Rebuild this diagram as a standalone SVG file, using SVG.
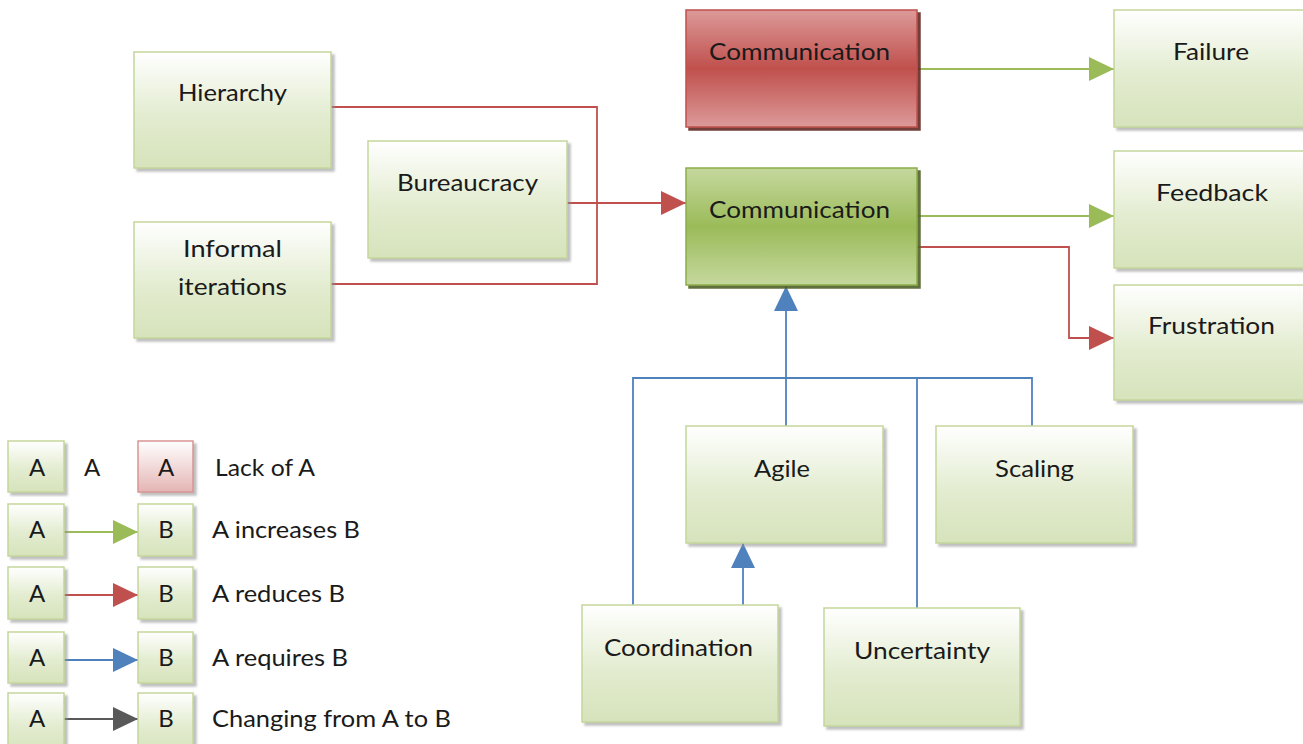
<svg xmlns="http://www.w3.org/2000/svg" width="1303" height="744" viewBox="0 0 1303 744">
  <defs>
    <linearGradient id="gLight" x1="0" y1="0" x2="0" y2="1">
      <stop offset="0" stop-color="#ffffff"/>
      <stop offset="0.55" stop-color="#e3ecd0"/>
      <stop offset="1" stop-color="#d6e3bb"/>
    </linearGradient>
    <linearGradient id="gRed" x1="0" y1="0" x2="0" y2="1">
      <stop offset="0" stop-color="#dc9a99"/>
      <stop offset="0.5" stop-color="#c0504d"/>
      <stop offset="1" stop-color="#dc9a99"/>
    </linearGradient>
    <linearGradient id="gGreen" x1="0" y1="0" x2="0" y2="1">
      <stop offset="0" stop-color="#c5d89e"/>
      <stop offset="0.5" stop-color="#9bbb59"/>
      <stop offset="1" stop-color="#c5d89e"/>
    </linearGradient>
    <linearGradient id="gPink" x1="0" y1="0" x2="0" y2="1">
      <stop offset="0" stop-color="#ffffff"/>
      <stop offset="1" stop-color="#e4b5b4"/>
    </linearGradient>
    <filter id="shLight" x="-10%" y="-10%" width="130%" height="130%">
      <feDropShadow dx="3" dy="3" stdDeviation="0.8" flood-color="#8c8c8c" flood-opacity="0.55"/>
    </filter>
    <filter id="shRed" x="-10%" y="-10%" width="130%" height="130%">
      <feDropShadow dx="3" dy="3" stdDeviation="0.6" flood-color="#632523" flood-opacity="0.9"/>
    </filter>
    <filter id="shGreen" x="-10%" y="-10%" width="130%" height="130%">
      <feDropShadow dx="3" dy="3" stdDeviation="0.6" flood-color="#4f6228" flood-opacity="0.9"/>
    </filter>
    <marker id="mGreen" viewBox="0 0 25 24" refX="25" refY="12" markerWidth="25" markerHeight="24" markerUnits="userSpaceOnUse" orient="auto">
      <path d="M0,0 L25,12 L0,24 Z" fill="#9bbb59"/>
    </marker>
    <marker id="mRed" viewBox="0 0 25 24" refX="25" refY="12" markerWidth="25" markerHeight="24" markerUnits="userSpaceOnUse" orient="auto">
      <path d="M0,0 L25,12 L0,24 Z" fill="#c0504d"/>
    </marker>
    <marker id="mBlue" viewBox="0 0 25 24" refX="25" refY="12" markerWidth="25" markerHeight="24" markerUnits="userSpaceOnUse" orient="auto">
      <path d="M0,0 L25,12 L0,24 Z" fill="#4f81bd"/>
    </marker>
    <marker id="mGray" viewBox="0 0 25 24" refX="25" refY="12" markerWidth="25" markerHeight="24" markerUnits="userSpaceOnUse" orient="auto">
      <path d="M0,0 L25,12 L0,24 Z" fill="#595959"/>
    </marker>
  </defs>
  <style>
    .light { fill: url(#gLight); stroke: #c3d69b; stroke-width: 1.5; filter: url(#shLight); }
    .lack { fill: url(#gRed); stroke: #c0504d; stroke-width: 1.5; filter: url(#shRed); }
    .core { fill: url(#gGreen); stroke: #8cad48; stroke-width: 1.5; filter: url(#shGreen); }
    .pink { fill: url(#gPink); stroke: #d99594; stroke-width: 1.5; filter: url(#shLight); }
    text { font-family: "Lato", "Open Sans", "Liberation Sans", sans-serif; font-size: 24px; fill: #1a1a1a; }
    .c { text-anchor: middle; }
    .ln { fill: none; stroke-width: 1.8; }
    .green { stroke: #9bbb59; }
    .red { stroke: #c0504d; }
    .blue { stroke: #4f81bd; }
    .gray { stroke: #595959; }
  </style>

  <rect width="1303" height="744" fill="#ffffff"/>

  <!-- connectors -->
  <g id="connectors">
    <polyline class="ln red" points="331,107 597,107 597,284 331,284"/>
    <line class="ln red" x1="567" y1="203" x2="686" y2="203" marker-end="url(#mRed)"/>
    <line class="ln green" x1="917" y1="69" x2="1114" y2="69" marker-end="url(#mGreen)"/>
    <line class="ln green" x1="917" y1="216" x2="1114" y2="216" marker-end="url(#mGreen)"/>
    <polyline class="ln red" points="917,247 1069,247 1069,338 1114,338" marker-end="url(#mRed)"/>
    <line class="ln blue" x1="786" y1="426" x2="786" y2="286" marker-end="url(#mBlue)"/>
    <polyline class="ln blue" points="633,605 633,378 1032,378 1032,426"/>
    <line class="ln blue" x1="917" y1="378" x2="917" y2="608"/>
    <line class="ln blue" x1="743" y1="605" x2="743" y2="543" marker-end="url(#mBlue)"/>
    <!-- legend arrows -->
    <line class="ln green" x1="64" y1="532" x2="138" y2="532" marker-end="url(#mGreen)"/>
    <line class="ln red" x1="64" y1="595" x2="138" y2="595" marker-end="url(#mRed)"/>
    <line class="ln blue" x1="64" y1="660" x2="138" y2="660" marker-end="url(#mBlue)"/>
    <line class="ln gray" x1="64" y1="719" x2="138" y2="719" marker-end="url(#mGray)"/>
  </g>

  <!-- nodes -->
  <g id="hierarchy">
    <rect class="light" x="134" y="52" width="197" height="116"/>
    <text x="178" y="101" textLength="109" lengthAdjust="spacingAndGlyphs">Hierarchy</text>
  </g>
  <g id="bureaucracy">
    <rect class="light" x="368" y="141" width="199" height="117"/>
    <text x="397" y="191" textLength="141" lengthAdjust="spacingAndGlyphs">Bureaucracy</text>
  </g>
  <g id="informal-iterations">
    <rect class="light" x="134" y="222" width="197" height="116"/>
    <text x="183" y="257" textLength="99" lengthAdjust="spacingAndGlyphs">Informal</text>
    <text x="178" y="295" textLength="109" lengthAdjust="spacingAndGlyphs">iterations</text>
  </g>
  <g id="communication-lack">
    <rect class="lack" x="686" y="10" width="231" height="117"/>
    <text x="709" y="60" textLength="181" lengthAdjust="spacingAndGlyphs">Communication</text>
  </g>
  <g id="communication">
    <rect class="core" x="686" y="168" width="231" height="117"/>
    <text x="709" y="218" textLength="181" lengthAdjust="spacingAndGlyphs">Communication</text>
  </g>
  <g id="failure">
    <rect class="light" x="1114" y="10" width="197" height="117"/>
    <text x="1173" y="60" textLength="76" lengthAdjust="spacingAndGlyphs">Failure</text>
  </g>
  <g id="feedback">
    <rect class="light" x="1114" y="151" width="197" height="117"/>
    <text x="1156" y="201" textLength="112" lengthAdjust="spacingAndGlyphs">Feedback</text>
  </g>
  <g id="frustration">
    <rect class="light" x="1114" y="285" width="197" height="115"/>
    <text x="1148" y="334" textLength="127" lengthAdjust="spacingAndGlyphs">Frustration</text>
  </g>
  <g id="agile">
    <rect class="light" x="686" y="426" width="197" height="117"/>
    <text x="754" y="477" textLength="56" lengthAdjust="spacingAndGlyphs">Agile</text>
  </g>
  <g id="scaling">
    <rect class="light" x="936" y="426" width="197" height="117"/>
    <text x="995" y="477" textLength="79" lengthAdjust="spacingAndGlyphs">Scaling</text>
  </g>
  <g id="coordination">
    <rect class="light" x="582" y="605" width="196" height="117"/>
    <text x="604" y="656" textLength="149" lengthAdjust="spacingAndGlyphs">Coordination</text>
  </g>
  <g id="uncertainty">
    <rect class="light" x="824" y="608" width="196" height="118"/>
    <text x="854" y="659" textLength="136" lengthAdjust="spacingAndGlyphs">Uncertainty</text>
  </g>

  <!-- legend -->
  <g id="legend">
    <rect class="light" x="8" y="441" width="56" height="51"/>
    <text class="c" x="37" y="476">A</text>
    <text class="c" x="92" y="476">A</text>
    <rect class="pink" x="138" y="441" width="55" height="51"/>
    <text class="c" x="166" y="476">A</text>
    <text x="215" y="476" textLength="100" lengthAdjust="spacingAndGlyphs">Lack of A</text>

    <rect class="light" x="8" y="504" width="56" height="52"/>
    <text class="c" x="37" y="538">A</text>
    <rect class="light" x="138" y="504" width="55" height="52"/>
    <text class="c" x="166" y="538">B</text>
    <text x="212" y="538" textLength="148" lengthAdjust="spacingAndGlyphs">A increases B</text>

    <rect class="light" x="8" y="567" width="56" height="52"/>
    <text class="c" x="37" y="602">A</text>
    <rect class="light" x="138" y="567" width="55" height="52"/>
    <text class="c" x="166" y="602">B</text>
    <text x="212" y="602" textLength="133" lengthAdjust="spacingAndGlyphs">A reduces B</text>

    <rect class="light" x="8" y="632" width="56" height="51"/>
    <text class="c" x="37" y="666">A</text>
    <rect class="light" x="138" y="632" width="55" height="51"/>
    <text class="c" x="166" y="666">B</text>
    <text x="212" y="666" textLength="136" lengthAdjust="spacingAndGlyphs">A requires B</text>

    <rect class="light" x="8" y="693" width="56" height="60"/>
    <text class="c" x="37" y="727">A</text>
    <rect class="light" x="138" y="693" width="55" height="60"/>
    <text class="c" x="166" y="727">B</text>
    <text x="212" y="727" textLength="239" lengthAdjust="spacingAndGlyphs">Changing from A to B</text>
  </g>
</svg>
